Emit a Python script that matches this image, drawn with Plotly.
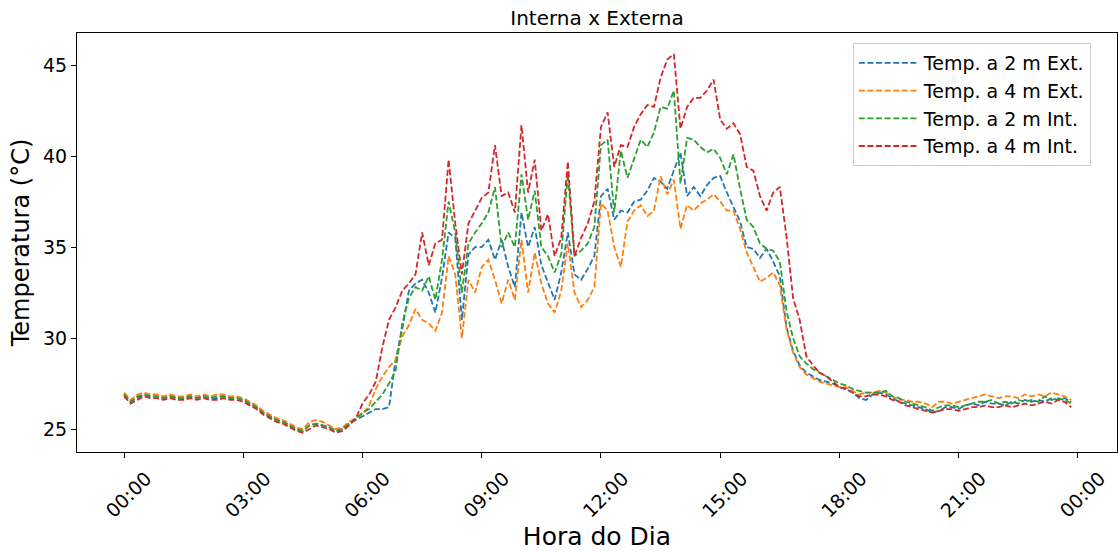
import pandas as pd
import plotly.graph_objects as go

# 10-minute readings over one day (00:00 .. 23:50)
horas = pd.date_range("2024-01-01 00:00", periods=144, freq="10min")

temp_2m_ext = [
    # 00h - 05h
    26.9, 26.5, 26.7, 26.9, 26.8, 26.8,
    26.7, 26.8, 26.7, 26.7, 26.8, 26.7,
    26.8, 26.7, 26.7, 26.8, 26.7, 26.7,
    26.6, 26.4, 26.2, 25.9, 25.7, 25.5,
    25.4, 25.2, 25.0, 24.9, 25.2, 25.3,
    25.2, 25.1, 24.9, 25.0, 25.3, 25.5,
    # 06h - 08h
    25.7, 25.9, 26.1, 26.1, 26.2, 28.8,
    30.5, 32.6, 33.0, 33.2, 32.5, 31.4,
    33.3, 35.8, 35.5, 31.0, 34.6, 35.0,
    # 09h - 11h
    35.0, 35.4, 34.3, 35.4, 33.9, 32.8,
    36.9, 35.0, 36.1, 34.0, 33.0, 32.1,
    33.6, 35.8, 33.5, 33.2, 33.8, 34.5,
    # 12h - 14h
    37.8, 38.2, 36.5, 37.0, 36.9, 37.5,
    37.6, 38.1, 38.8, 38.6, 38.2, 39.2,
    40.2, 37.8, 38.3, 37.8, 38.4, 38.8,
    # 15h - 17h
    38.9, 38.0, 37.2, 36.4, 35.0, 34.9,
    34.4, 34.9, 34.2, 33.4, 30.6, 29.3,
    28.5, 28.1, 27.9, 27.7, 27.6, 27.5,
    # 18h - 23h
    27.3, 27.2, 27.0, 26.7, 26.6, 26.9,
    27.0, 26.9, 26.7, 26.5, 26.4, 26.3,
    26.2, 26.1, 25.9, 26.0, 26.2, 26.2,
    26.1, 26.3, 26.4, 26.3, 26.5, 26.4,
    26.4, 26.3, 26.5, 26.4, 26.6, 26.5,
    26.6, 26.5, 26.7, 26.6, 26.7, 26.5,
]

temp_4m_ext = [
    27.0, 26.6, 26.9, 27.0, 26.9, 26.9,
    26.8, 26.9, 26.8, 26.8, 26.9, 26.8,
    26.9, 26.8, 26.9, 26.9, 26.8, 26.8,
    26.7, 26.5, 26.3, 26.0, 25.8, 25.6,
    25.5, 25.3, 25.1, 25.0, 25.4, 25.5,
    25.4, 25.2, 25.0, 25.1, 25.4, 25.6,
    25.8, 26.3, 27.2, 27.9, 28.4, 28.8,
    30.1, 30.7, 31.6, 31.0, 30.8, 30.4,
    31.4, 34.5, 33.5, 30.0, 33.2, 32.5,
    33.9, 34.3, 33.2, 31.9, 33.2, 32.1,
    35.4, 32.5, 34.7, 33.0, 31.9, 31.4,
    32.6, 35.2, 32.5, 31.7, 32.1, 32.8,
    37.4, 37.0, 35.0, 33.9, 36.4, 37.0,
    37.3, 36.7, 37.0, 38.9, 37.9, 38.7,
    36.0, 37.3, 37.0, 37.4, 37.6, 37.9,
    37.5, 37.0, 37.0, 36.0, 34.7, 33.9,
    33.1, 33.3, 33.6, 32.9, 30.5, 29.2,
    28.4, 28.0, 27.8, 27.6, 27.5, 27.4,
    27.3, 27.3, 27.1, 26.9, 27.0, 27.0,
    27.1, 27.0, 26.8, 26.6, 26.6, 26.5,
    26.5, 26.4, 26.2, 26.5, 26.5, 26.4,
    26.5, 26.6, 26.7, 26.8, 26.9, 26.8,
    26.7, 26.8, 26.8, 26.7, 26.9, 26.8,
    26.9, 26.8, 27.0, 26.9, 26.8, 26.6,
]

temp_2m_int = [
    26.9, 26.5, 26.8, 26.9, 26.8, 26.8,
    26.7, 26.8, 26.7, 26.7, 26.8, 26.7,
    26.8, 26.7, 26.8, 26.8, 26.7, 26.7,
    26.6, 26.4, 26.2, 25.9, 25.7, 25.5,
    25.4, 25.2, 25.0, 24.9, 25.2, 25.3,
    25.2, 25.1, 24.9, 25.0, 25.3, 25.6,
    25.9, 26.1, 26.5, 26.9, 27.5, 28.2,
    30.8, 32.2, 32.8, 32.6, 33.4, 32.1,
    34.3, 37.5, 35.8, 32.5, 35.2, 35.8,
    36.3, 36.9, 38.3, 35.0, 35.8, 35.0,
    39.0, 36.5, 38.1, 35.0, 34.5, 33.6,
    34.6, 39.0, 34.5, 34.8, 35.2, 36.1,
    40.6, 40.9, 36.9, 40.3, 38.8, 39.9,
    40.9, 40.5, 41.3, 42.7, 42.6, 43.6,
    38.5, 41.0, 40.9, 40.5, 40.2, 40.4,
    39.9, 39.0, 40.1, 38.2, 36.5, 36.1,
    35.2, 34.9, 34.8, 34.2, 31.5, 30.0,
    29.0, 28.6, 28.3, 28.1, 27.9, 27.7,
    27.5, 27.4, 27.2, 27.1, 27.0, 27.0,
    27.0, 27.1, 26.8, 26.7, 26.5, 26.4,
    26.3, 26.2, 26.0, 26.2, 26.3, 26.3,
    26.2, 26.3, 26.4, 26.5, 26.5, 26.6,
    26.4, 26.5, 26.4, 26.6, 26.5, 26.6,
    26.5, 26.8, 26.6, 26.7, 26.6, 26.4,
]

temp_4m_int = [
    26.8, 26.4, 26.6, 26.8, 26.7, 26.7,
    26.6, 26.7, 26.6, 26.6, 26.7, 26.6,
    26.7, 26.6, 26.6, 26.7, 26.6, 26.6,
    26.5, 26.3, 26.1, 25.8, 25.6, 25.4,
    25.3, 25.1, 24.9, 24.8, 25.0, 25.2,
    25.1, 25.0, 24.8, 24.9, 25.2, 25.6,
    26.4, 26.9, 27.6, 29.5, 31.0, 31.7,
    32.6, 33.0, 33.5, 35.8, 34.0, 35.2,
    35.4, 39.8, 36.3, 33.5, 36.3, 37.0,
    37.7, 38.0, 40.6, 37.8, 38.0, 36.9,
    41.7, 38.0, 39.8, 35.9, 36.8, 34.5,
    35.5, 39.7, 34.5, 35.5, 36.3, 37.5,
    41.6, 42.4, 39.4, 40.6, 40.5, 41.6,
    42.3, 42.8, 42.7, 44.3, 45.3, 45.6,
    41.5, 42.7, 43.2, 43.2, 43.6, 44.2,
    42.0, 41.5, 41.8, 41.2, 39.4, 39.2,
    37.8, 37.0, 38.0, 38.3, 35.6, 32.2,
    31.0, 29.0, 28.5, 28.1, 27.9, 27.6,
    27.3, 27.2, 27.0, 26.8, 26.8, 26.9,
    26.9, 26.8, 26.6, 26.5, 26.3, 26.2,
    26.1, 26.0, 25.9, 26.0, 26.1, 26.1,
    26.0, 26.1, 26.2, 26.2, 26.3, 26.2,
    26.2, 26.3, 26.2, 26.3, 26.4, 26.3,
    26.4, 26.5, 26.4, 26.6, 26.5, 26.2,
]

series = [
    ("Temp. a 2 m Ext.", temp_2m_ext, "#1f77b4"),
    ("Temp. a 4 m Ext.", temp_4m_ext, "#ff7f0e"),
    ("Temp. a 2 m Int.", temp_2m_int, "#2ca02c"),
    ("Temp. a 4 m Int.", temp_4m_int, "#d62728"),
]

font_family = "DejaVu Sans, Arial, sans-serif"

fig = go.Figure()
for i, (nome, valores, cor) in enumerate(series):
    fig.add_trace(go.Scatter(
        x=horas, y=valores, mode="lines", name=nome, legendgroup=f"g{i}",
        line=dict(color=cor, width=1.8, dash="6px,2.6px"),
    ))

x0 = pd.Timestamp("2024-01-01 00:00")
fig.update_layout(
    width=1118, height=552,
    margin=dict(l=77, r=1, t=33, b=100),
    paper_bgcolor="white", plot_bgcolor="white",
    font=dict(family=font_family, color="black"),
    title=dict(text="Interna x Externa", x=0.5, xanchor="center",
               xref="paper", y=0.967, yanchor="middle",
               font=dict(size=20, family=font_family)),
    legend=dict(
        x=0.746, y=0.976, xanchor="left", yanchor="top",
        bgcolor="rgba(255,255,255,0.8)", bordercolor="#cccccc", borderwidth=1,
        font=dict(size=19, family=font_family), tracegroupgap=0,
        itemwidth=60, entrywidth=250, entrywidthmode="pixels",
    ),
    showlegend=True,
)

fig.update_xaxes(
    range=[x0 - pd.Timedelta(minutes=71), x0 + pd.Timedelta(minutes=1499)],
    tickformat="%H:%M", dtick=3 * 3600 * 1000, tick0=x0,
    tickangle=-45, ticks="outside", ticklen=5, tickcolor="black",
    tickfont=dict(size=19), ticklabelshift=22, ticklabelstandoff=2,
    showgrid=False, zeroline=False,
    showline=True, linecolor="black", linewidth=1, mirror=True,
    title=dict(text="Hora do Dia", font=dict(size=25), standoff=4),
)
fig.update_yaxes(
    range=[23.74, 46.76], tickvals=[25, 30, 35, 40, 45],
    ticks="outside", ticklen=5, tickcolor="black", tickfont=dict(size=19),
    showgrid=False, zeroline=False,
    showline=True, linecolor="black", linewidth=1, mirror=True,
    title=dict(text="Temperatura (°C)", font=dict(size=24), standoff=6),
)

fig.write_html("out.html")
